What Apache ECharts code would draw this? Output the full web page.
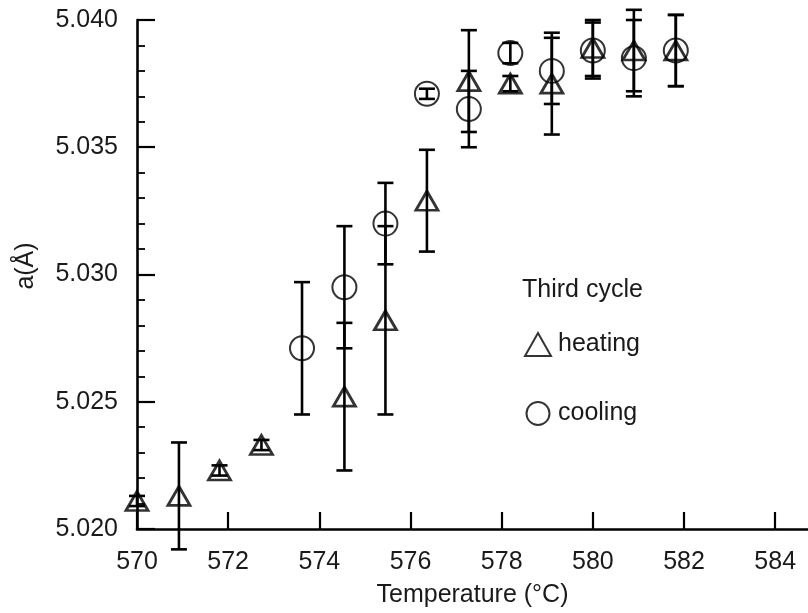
<!DOCTYPE html>
<html>
<head>
<meta charset="utf-8">
<script src="https://cdn.jsdelivr.net/npm/echarts@6/dist/echarts.min.js"></script>
<style>html,body{margin:0;padding:0;background:#fff}#c{width:808px;height:613px}</style>
</head>
<body>
<div id="c"></div>
<script>
// Heating (triangles)
const heatT   = [570.0, 570.92, 571.81, 572.73, 574.55, 575.45, 576.36, 577.28, 578.19, 579.1, 580.0, 580.9, 581.82];
const heatA   = [5.0211, 5.0213, 5.0223, 5.0233, 5.0252, 5.0282, 5.0329, 5.0376, 5.0375, 5.0375, 5.0389, 5.0388, 5.0388];
const heatErr = [0.0002, 0.0021, 0.0002, 0.0002, 0.0029, 0.0037, 0.0020, 0.0020, 0.0003, 0.0020, 0.0011, 0.0016, 0.0014];
// Cooling (circles)
const coolT   = [573.62, 574.55, 575.45, 576.36, 577.28, 578.19, 579.1, 580.0, 580.9, 581.82];
const coolA   = [5.0271, 5.0295, 5.0320, 5.0371, 5.0365, 5.0387, 5.0380, 5.0388, 5.0385, 5.0388];
const coolErr = [0.0026, 0.0024, 0.0016, 0.0002, 0.0015, 0.0004, 0.0013, 0.0011, 0.0015, 0.0014];
// Axis ticks
const xTicks = [570, 572, 574, 576, 578, 580, 582, 584];
const yTicks = [5.020, 5.025, 5.030, 5.035, 5.040];

const FONT = '"Liberation Sans", Arial, sans-serif';
const TXT = '#1a1a1a';

function pts(t, a) { return t.map((v, i) => [v, a[i]]); }
function errs(t, a, e) { return t.map((v, i) => [v, a[i] - e[i], a[i] + e[i]]); }

function errRender(params, api) {
  const x = api.value(0);
  const lo = api.coord([x, api.value(1)]);
  const hi = api.coord([x, api.value(2)]);
  const w = 8;
  const st = { stroke: '#000', lineWidth: 2.6 };
  return {
    type: 'group',
    children: [
      { type: 'line', shape: { x1: lo[0], y1: lo[1], x2: hi[0], y2: hi[1] }, style: st },
      { type: 'line', shape: { x1: lo[0] - w, y1: lo[1], x2: lo[0] + w, y2: lo[1] }, style: st },
      { type: 'line', shape: { x1: hi[0] - w, y1: hi[1], x2: hi[0] + w, y2: hi[1] }, style: st }
    ]
  };
}

const chart = echarts.init(document.getElementById('c'), null, { renderer: 'canvas' });
chart.setOption({
  animation: false,
  backgroundColor: '#fff',
  textStyle: { fontFamily: FONT },
  grid: { left: 137, right: 0, top: 20, bottom: 84, containLabel: false },
  xAxis: {
    type: 'value', min: xTicks[0], max: 584.72, interval: 2,
    axisLine: { lineStyle: { color: '#000', width: 2.6 } },
    axisTick: { inside: true, length: 17, lineStyle: { color: '#000', width: 2.2 } },
    axisLabel: { showMaxLabel: false, margin: 21, fontSize: 25, color: TXT, fontFamily: FONT,
      formatter: v => xTicks.includes(v) ? String(v) : '' },
    splitLine: { show: false },
    name: 'Temperature (°C)', nameLocation: 'middle', nameGap: 54,
    nameTextStyle: { fontSize: 25, color: TXT, fontFamily: FONT }
  },
  yAxis: {
    type: 'value', min: yTicks[0], max: yTicks[yTicks.length - 1], interval: 0.005,
    axisLine: { lineStyle: { color: '#000', width: 2.6 } },
    axisTick: { inside: true, length: 18, lineStyle: { color: '#000', width: 2.2 } },
    minorTick: { show: true, splitNumber: 5, length: 8, lineStyle: { color: '#000', width: 1.8 } },
    axisLabel: { margin: 19, fontSize: 25, color: TXT, fontFamily: FONT, formatter: v => v.toFixed(3) },
    splitLine: { show: false }
  },
  legend: {
    left: 519, top: 327, orient: 'vertical', itemWidth: 26, itemHeight: 23, itemGap: 44,
    textStyle: { fontSize: 25, color: TXT, fontFamily: FONT, padding: [0, 0, 0, 2] },
    data: [{ name: 'heating', icon: 'triangle' }, { name: 'cooling', icon: 'circle' }]
  },
  graphic: [
    { type: 'text', left: 522, top: 278, style: { text: 'Third cycle', fontSize: 25, fill: TXT, font: '25px ' + FONT } },
    { type: 'text', x: 26, y: 266, rotation: Math.PI / 2,
      style: { text: 'a(Å)', font: '25px ' + FONT, fill: TXT, align: 'center', verticalAlign: 'middle' } }
  ],
  series: [
    { type: 'custom', name: 'heatErr', renderItem: errRender, data: errs(heatT, heatA, heatErr),
      encode: { x: 0, y: [1, 2] }, clip: false, z: 2 },
    { type: 'custom', name: 'coolErr', renderItem: errRender, data: errs(coolT, coolA, coolErr),
      encode: { x: 0, y: [1, 2] }, clip: false, z: 2 },
    { type: 'scatter', name: 'heating', symbol: 'triangle', symbolSize: [22, 19], clip: false, z: 3,
      itemStyle: { color: 'rgba(255,255,255,0)', borderColor: '#000', borderWidth: 2.8 },
      data: pts(heatT, heatA) },
    { type: 'scatter', name: 'cooling', symbol: 'circle', symbolSize: 24, clip: false, z: 3,
      itemStyle: { color: 'rgba(255,255,255,0)', borderColor: '#000', borderWidth: 2 },
      data: pts(coolT, coolA) }
  ]
});
</script>
</body>
</html>
